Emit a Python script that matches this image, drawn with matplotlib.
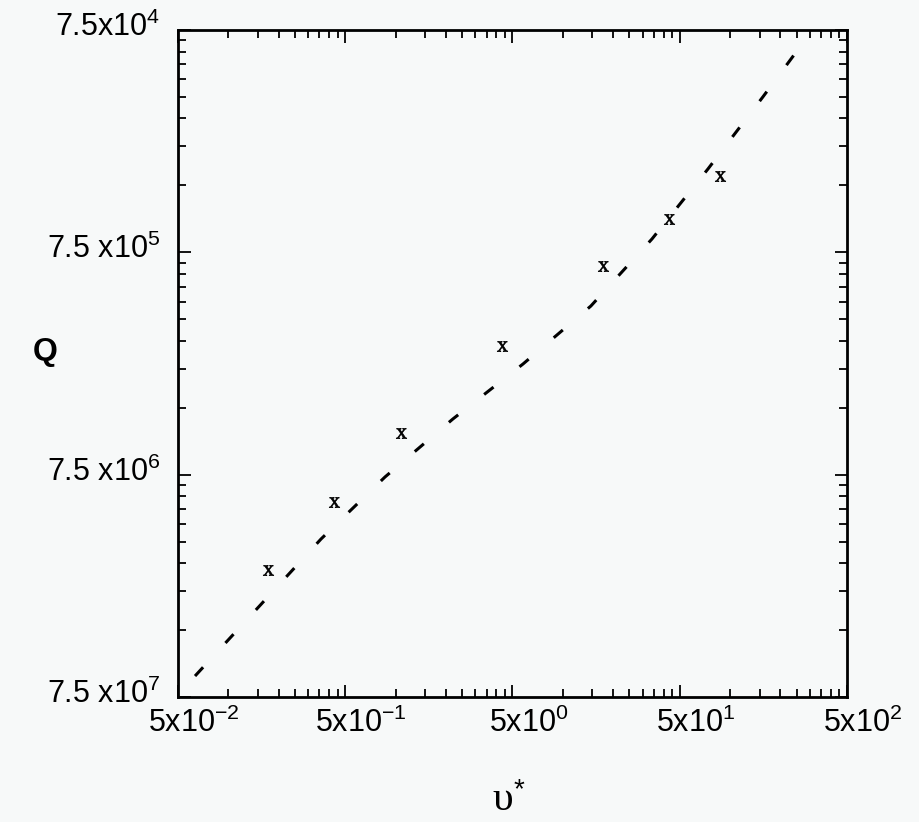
import matplotlib
matplotlib.use('Agg')
import matplotlib.pyplot as plt
from matplotlib.ticker import FixedLocator, FixedFormatter, NullFormatter
import matplotlib.transforms as mtransforms

plt.rcParams['font.family'] = ['Liberation Sans', 'DejaVu Sans']
plt.rcParams['mathtext.fontset'] = 'custom'
plt.rcParams['mathtext.rm'] = 'Liberation Sans'
plt.rcParams['mathtext.it'] = 'Liberation Sans:italic'
plt.rcParams['mathtext.bf'] = 'Liberation Sans:bold'
plt.rcParams['mathtext.cal'] = 'Liberation Serif'

# ---- data ----
v_star = [0.173, 0.428, 1.08, 4.33, 17.4, 43.1, 87.0]
Q_vals = [2.79e-6, 5.65e-6, 1.155e-5, 2.84e-5, 6.51e-5, 1.06e-4, 1.65e-4]

fit_v = [0.0632, 0.157, 0.358, 0.864, 2.20, 5.78, 14.7, 34.1, 73.8, 157.0, 241.0]
fit_Q = [9.32e-7, 1.96e-6, 3.85e-6, 7.32e-6, 1.335e-5, 2.36e-5, 4.30e-5,
         8.61e-5, 1.78e-4, 3.75e-4, 5.79e-4]

x_tick_values = [5e-2, 5e-1, 5e0, 5e1, 5e2]
x_tick_labels = [r'5x10$^{-2}$', r'5x10$^{-1}$', r'5x10$^{0}$', r'5x10$^{1}$', r'5x10$^{2}$']
y_tick_values = [7.5e-7, 7.5e-6, 7.5e-5, 7.5e-4]
y_tick_labels = [r'7.5 x10$^{7}$', r'7.5 x10$^{6}$', r'7.5 x10$^{5}$', r'7.5x10$^{4}$']

bg = '#f7f9f9'
W, H = 919, 822
fig = plt.figure(figsize=(W / 100, H / 100), dpi=100, facecolor=bg)
ax = fig.add_axes([178 / W, 1 - 697 / H, 669 / W, 667 / H], facecolor=bg)

ax.set_xscale('log')
ax.set_yscale('log')
ax.set_xlim(x_tick_values[0], x_tick_values[-1])
ax.set_ylim(y_tick_values[0], y_tick_values[-1])

# dashed fit line
ax.plot(fit_v, fit_Q, color='black', lw=2.2, linestyle=(0, (3.9, 10.8)),
        dash_capstyle='butt')
# data points drawn as serif "x"
ax.plot(v_star, Q_vals, linestyle='none', marker=r'$\mathcal{x}$',
        markersize=7.5, markeredgewidth=0.5, color='black')

# ticks
ax.xaxis.set_major_locator(FixedLocator(x_tick_values))
ax.xaxis.set_major_formatter(FixedFormatter(x_tick_labels))
x_minor = [k * t for t in x_tick_values[:-1] for k in range(2, 10)]
ax.xaxis.set_minor_locator(FixedLocator(x_minor))
ax.xaxis.set_minor_formatter(NullFormatter())

ax.yaxis.set_major_locator(FixedLocator(y_tick_values))
ax.yaxis.set_major_formatter(FixedFormatter(y_tick_labels))
y_minor = [k * t for t in y_tick_values[:-1] for k in range(2, 10)]
ax.yaxis.set_minor_locator(FixedLocator(y_minor))
ax.yaxis.set_minor_formatter(NullFormatter())

ax.tick_params(which='both', direction='in', top=True, right=True,
               color='black', width=1.3)
ax.tick_params(which='major', length=9)
ax.tick_params(which='minor', length=6)
ax.tick_params(axis='x', which='major', labelsize=22, pad=8)
ax.tick_params(axis='y', which='major', labelsize=22, pad=13)

for s in ax.spines.values():
    s.set_linewidth(2.0)
    s.set_color('black')

xshift = mtransforms.ScaledTranslation(16 / 100, 0, fig.dpi_scale_trans)
for lab in ax.get_xticklabels():
    lab.set_transform(lab.get_transform() + xshift)
yshift = mtransforms.ScaledTranslation(0, 6 / 100, fig.dpi_scale_trans)
for lab in ax.get_yticklabels():
    lab.set_transform(lab.get_transform() + yshift)

# axis titles
fig.text(45 / W, 1 - 352 / H, 'Q', fontsize=23, fontweight='bold',
         ha='center', va='center')
fig.text(503 / W, 1 - 800 / H, 'υ', fontsize=30, family='Liberation Serif',
         ha='center', va='center')
fig.text(519 / W, 1 - 790 / H, '*', fontsize=20, ha='center', va='center')

fig.savefig('out.png', dpi=100, facecolor=bg)
